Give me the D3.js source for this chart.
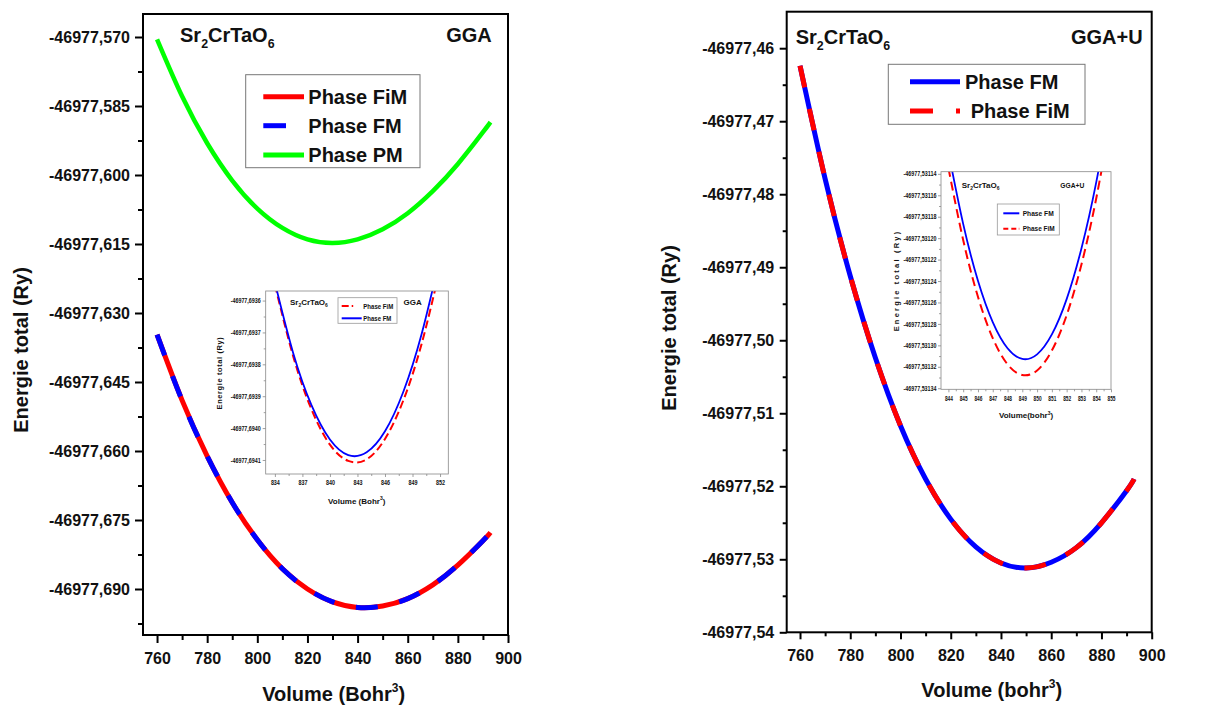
<!DOCTYPE html>
<html>
<head>
<meta charset="utf-8">
<script src="https://cdn.jsdelivr.net/npm/d3@7"></script>
<style>
body { margin: 0; background: #fff; }
text { font-family: "Liberation Sans", Arial, sans-serif; font-weight: bold; fill: #111; }
text.narrow { font-family: "Liberation Sans Narrow", "Liberation Sans", Arial, sans-serif; }
</style>
</head>
<body>
<svg class="chart"></svg>
<script>
// main curves, volume in bohr^3, energy in Ry
var volumes = [760, 770, 780, 790, 800, 810, 820, 830, 840, 850, 860, 870, 880, 890, 893];
var ggaFiM = [-46977.6347, -46977.6490, -46977.6611, -46977.6712, -46977.6793, -46977.6856, -46977.6900, -46977.6928,
              -46977.6940, -46977.6937, -46977.6921, -46977.6891, -46977.6848, -46977.6795, -46977.6777];
var ggaFM  = [-46977.6347, -46977.6490, -46977.6611, -46977.6712, -46977.6793, -46977.6856, -46977.6900, -46977.6928,
              -46977.6940, -46977.6937, -46977.6921, -46977.6891, -46977.6848, -46977.6795, -46977.6777];
var ggaPM  = [-46977.5705, -46977.5829, -46977.5931, -46977.6012, -46977.6073, -46977.6115, -46977.6140, -46977.6148,
              -46977.6140, -46977.6118, -46977.6083, -46977.6035, -46977.5976, -46977.5907, -46977.5885];
var uFM  = [-46977.4624, -46977.4779, -46977.4912, -46977.5024, -46977.5117, -46977.5190, -46977.5245, -46977.5283,
            -46977.5305, -46977.5312, -46977.5304, -46977.5284, -46977.5250, -46977.5206, -46977.5190];
var uFiM = [-46977.4624, -46977.4779, -46977.4912, -46977.5024, -46977.5117, -46977.5190, -46977.5245, -46977.5283,
            -46977.5305, -46977.5312, -46977.5304, -46977.5284, -46977.5250, -46977.5206, -46977.5190];

// zoomed insets
var insetGgaVol = [834, 836, 838, 840, 842, 844, 846, 848, 850, 852];
var insetGgaFM  = [-46977.693543, -46977.693765, -46977.693929, -46977.694036, -46977.694085,
                   -46977.694076, -46977.694010, -46977.693886, -46977.693704, -46977.693465];
var insetGgaFiM = [-46977.693550, -46977.693775, -46977.693942, -46977.694052, -46977.694103,
                   -46977.694098, -46977.694034, -46977.693913, -46977.693735, -46977.693499];
var insetUVol = [844, 845, 846, 847, 848, 849, 850, 851, 852, 853, 854, 855];
var insetUFM  = [-46977.5311194, -46977.5311867, -46977.5312397, -46977.5312783, -46977.5313027, -46977.5313127,
                 -46977.5313084, -46977.5312898, -46977.5312569, -46977.5312096, -46977.5311480, -46977.5310721];
var insetUFiM = [-46977.5311344, -46977.5312017, -46977.5312547, -46977.5312933, -46977.5313177, -46977.5313277,
                 -46977.5313234, -46977.5313048, -46977.5312719, -46977.5312246, -46977.5311630, -46977.5310871];

// tick labels
var xTicks = [760, 780, 800, 820, 840, 860, 880, 900];
var ggaYTicks = [-46977.570, -46977.585, -46977.600, -46977.615, -46977.630, -46977.645, -46977.660, -46977.675, -46977.690];
var uYTicks = [-46977.46, -46977.47, -46977.48, -46977.49, -46977.50, -46977.51, -46977.52, -46977.53, -46977.54];
var insetGgaXTicks = [834, 837, 840, 843, 846, 849, 852];
var insetGgaYTicks = [-46977.6936, -46977.6937, -46977.6938, -46977.6939, -46977.6940, -46977.6941];
var insetUXTicks = [844, 845, 846, 847, 848, 849, 850, 851, 852, 853, 854, 855];
var insetUYTicks = [-46977.53114, -46977.53116, -46977.53118, -46977.53120, -46977.53122, -46977.53124,
                    -46977.53126, -46977.53128, -46977.53130, -46977.53132, -46977.53134];

var red = "#ff0000", blue = "#0000ff", green = "#00ff00";

var svg = d3.select('.chart')
  .attr("width", 1211)
  .attr("height", 706);

var loc = d3.formatLocale({decimal: ",", thousands: " ", grouping: [3], currency: ["", ""], minus: "-"});

// minor ticks halfway between the labelled ones
function minorOf(ticks, scale) {
  var step = ticks[1] - ticks[0];
  var d = scale.domain(), lo = Math.min(d[0], d[1]), hi = Math.max(d[0], d[1]);
  var out = [];
  for (var i = -1; i < ticks.length; i++) out.push(ticks[0] + (i + 0.5) * step);
  return out.filter(function(v) { return v > lo && v < hi; });
}

function axes(g, x, y, o) {
  var w = x.range()[1], h = y.range()[0];
  var ax = g.append("g");
  var xa = ax.append("g").attr("transform", "translate(0," + h + ")")
    .call(d3.axisBottom(x).tickValues(o.xTicks).tickFormat(o.xFmt).tickSize(o.tick).tickPadding(o.xPad));
  ax.append("g").attr("transform", "translate(0," + h + ")")
    .call(d3.axisBottom(x).tickValues(minorOf(o.xTicks, x)).tickFormat("").tickSize(o.minor));
  var ya = ax.append("g")
    .call(d3.axisLeft(y).tickValues(o.yTicks).tickFormat(o.yFmt).tickSize(o.tick).tickPadding(o.yPad));
  ax.append("g")
    .call(d3.axisLeft(y).tickValues(minorOf(o.yTicks, y)).tickFormat("").tickSize(o.minor));
  ax.selectAll(".domain").remove();
  ax.selectAll(".tick line").attr("stroke", o.color).attr("stroke-width", o.sw);
  ax.selectAll(".tick text")
    .attr("fill", o.textColor)
    .attr("font-family", null)
    .style("font-size", o.fs + "px");
  // squeeze the small inset labels like a condensed face
  if (o.xLen) xa.selectAll(".tick text").attr("textLength", o.xLen).attr("lengthAdjust", "spacingAndGlyphs");
  if (o.yLen) ya.selectAll(".tick text").attr("textLength", o.yLen).attr("lengthAdjust", "spacingAndGlyphs");
  g.append("rect")
    .attr("width", w).attr("height", h)
    .attr("fill", "none").attr("stroke", o.color).attr("stroke-width", o.sw);
}

function curve(g, vols, vals, x, y, color, width, dash) {
  var line = d3.line()
    .x(function(d, i) { return x(vols[i]); })
    .y(function(d) { return y(d); })
    .curve(d3.curveNatural);
  g.append("path")
    .datum(vals)
    .attr("d", line)
    .attr("fill", "none")
    .attr("stroke", color)
    .attr("stroke-width", width)
    .attr("stroke-dasharray", dash || null);
}

// Sr2CrTaO6 with subscripts
function formula(g, x, y, fs) {
  var t = g.append("text").attr("x", x).attr("y", y).style("font-size", fs + "px");
  var s = fs * 0.28;
  t.append("tspan").text("Sr");
  t.append("tspan").attr("dy", s).style("font-size", (fs * 0.62) + "px").text("2");
  t.append("tspan").attr("dy", -s).text("CrTaO");
  t.append("tspan").attr("dy", s).style("font-size", (fs * 0.62) + "px").text("6");
}

function label(g, x, y, txt, fs, anchor, rotate, spacing, len) {
  var t = g.append("text")
    .attr("text-anchor", anchor || "start")
    .style("font-size", fs + "px")
    .text(txt);
  if (spacing) t.style("letter-spacing", spacing + "px");
  if (len) t.attr("textLength", len).attr("lengthAdjust", "spacingAndGlyphs");
  if (rotate) t.attr("transform", "translate(" + x + "," + y + ") rotate(-90)");
  else t.attr("x", x).attr("y", y);
  return t;
}

function legendLine(g, x1, x2, y, color, width, dash) {
  g.append("line")
    .attr("x1", x1).attr("x2", x2).attr("y1", y).attr("y2", y)
    .attr("stroke", color).attr("stroke-width", width)
    .attr("stroke-dasharray", dash || null);
}

// ---------------- left panel : GGA ----------------
var L = { left: 143, top: 14, width: 365, height: 621 };
var xL = d3.scaleLinear().domain([754.4, 900]).range([0, L.width]);
var yL = d3.scaleLinear().domain([-46977.700, -46977.565]).range([L.height, 0]);
var gL = svg.append("g").attr("transform", "translate(" + L.left + "," + L.top + ")");

curve(gL, volumes, ggaPM, xL, yL, green, 4.5);
curve(gL, volumes, ggaFiM, xL, yL, red, 5);
curve(gL, volumes, ggaFM, xL, yL, blue, 5, "22 22");

axes(gL, xL, yL, {
  xTicks: xTicks, yTicks: ggaYTicks, xFmt: d3.format("d"), yFmt: loc.format(".3f"),
  tick: 8, minor: 5, xPad: 10, yPad: 5, color: "#000", sw: 2, fs: 16, textColor: "#111"
});

formula(svg, 180, 42, 20);
label(svg, 491.7, 42, "GGA", 20, "end");
label(svg, 28, 350, "Energie total (Ry)", 20, "middle", true);
var xtL = label(svg, 333.7, 701, "Volume (Bohr", 20, "middle");
xtL.append("tspan").attr("dy", -9).style("font-size", "12px").text("3");
xtL.append("tspan").attr("dy", 9).text(")");

// legend
svg.append("rect").attr("x", 245.7).attr("y", 74.7).attr("width", 174.3).attr("height", 93)
  .attr("fill", "#fff").attr("stroke", "#777").attr("stroke-width", 1);
legendLine(svg, 263.3, 304, 96.7, red, 5);
legendLine(svg, 263.3, 286, 125.7, blue, 5);
legendLine(svg, 263.3, 304, 155, green, 5);
label(svg, 308.3, 103.7, "Phase FiM", 20);
label(svg, 308.3, 132.7, "Phase FM", 20);
label(svg, 308.3, 162, "Phase PM", 20);

// inset GGA
var IL = { left: 265.7, top: 291, width: 182.6, height: 183 };
var xIL = d3.scaleLinear().domain([833, 852.9]).range([0, IL.width]);
var yIL = d3.scaleLinear().domain([-46977.694144, -46977.69357]).range([IL.height, 0]);
var gIL = svg.append("g").attr("transform", "translate(" + IL.left + "," + IL.top + ")");
gIL.append("rect").attr("width", IL.width).attr("height", IL.height).attr("fill", "#fff");
svg.append("clipPath").attr("id", "clipIL").append("rect").attr("width", IL.width).attr("height", IL.height);
var cIL = gIL.append("g").attr("clip-path", "url(#clipIL)");
curve(cIL, insetGgaVol, insetGgaFiM, xIL, yIL, red, 2, "8 4");
curve(cIL, insetGgaVol, insetGgaFM, xIL, yIL, blue, 1.8);
axes(gIL, xIL, yIL, {
  xTicks: insetGgaXTicks, yTicks: insetGgaYTicks, xFmt: d3.format("d"), yFmt: loc.format(".4f"),
  tick: 3, minor: 2, xPad: 3, yPad: 2, color: "#888", sw: 0.8, fs: 7, textColor: "#444",
  xLen: 9, yLen: 30
});
formula(svg, 290, 304.5, 8);
label(svg, 421.7, 304.5, "GGA", 8, "end");
label(svg, 221.5, 373, "Energie total (Ry)", 7.5, "middle", true, 0.6);
var xtIL = label(svg, 356.7, 503.5, "Volume (Bohr", 8, "middle");
xtIL.append("tspan").attr("dy", -3.5).style("font-size", "5px").text("3");
xtIL.append("tspan").attr("dy", 3.5).text(")");
svg.append("rect").attr("x", 338).attr("y", 297.7).attr("width", 59).attr("height", 25.6)
  .attr("fill", "#fff").attr("stroke", "#999").attr("stroke-width", 0.8);
legendLine(svg, 341.7, 361.7, 306, red, 2, "7 3 1.5 20");
legendLine(svg, 341.7, 361.7, 318.3, blue, 2);
label(svg, 363.3, 308.5, "Phase FiM", 6.5, "start", false, 0, 30);
label(svg, 363.3, 320.8, "Phase FM", 6.5, "start", false, 0, 28);

// ---------------- right panel : GGA+U ----------------
var R = { left: 786.7, top: 11.7, width: 365, height: 620.6 };
var xR = d3.scaleLinear().domain([754.7, 900]).range([0, R.width]);
var yR = d3.scaleLinear().domain([-46977.54, -46977.455]).range([R.height, 0]);
var gR = svg.append("g").attr("transform", "translate(" + R.left + "," + R.top + ")");

curve(gR, volumes, uFM, xR, yR, blue, 5);
curve(gR, volumes, uFiM, xR, yR, red, 5, "22 22");

axes(gR, xR, yR, {
  xTicks: xTicks, yTicks: uYTicks, xFmt: d3.format("d"), yFmt: loc.format(".2f"),
  tick: 7, minor: 4, xPad: 10, yPad: 5.5, color: "#000", sw: 2, fs: 16, textColor: "#111"
});

formula(svg, 795.7, 44, 20);
label(svg, 1142.7, 44, "GGA+U", 20, "end");
label(svg, 676, 328, "Energie total (Ry)", 20, "middle", true);
var xtR = label(svg, 991.7, 697, "Volume (bohr", 20, "middle");
xtR.append("tspan").attr("dy", -9).style("font-size", "12px").text("3");
xtR.append("tspan").attr("dy", 9).text(")");

svg.append("rect").attr("x", 888.3).attr("y", 64.3).attr("width", 196.7).attr("height", 60)
  .attr("fill", "#fff").attr("stroke", "#777").attr("stroke-width", 1);
legendLine(svg, 910, 960, 81.7, blue, 5);
legendLine(svg, 910, 960, 111, red, 5, "23 23 4 20");
label(svg, 965, 88.7, "Phase FM", 20);
label(svg, 970.7, 118, "Phase FiM", 20);

// inset GGA+U
var IR = { left: 941, top: 171.7, width: 170, height: 217.6 };
var xIR = d3.scaleLinear().domain([843.5, 855]).range([0, IR.width]);
var yIR = d3.scaleLinear().domain([-46977.531341, -46977.531138]).range([IR.height, 0]);
var gIR = svg.append("g").attr("transform", "translate(" + IR.left + "," + IR.top + ")");
gIR.append("rect").attr("width", IR.width).attr("height", IR.height).attr("fill", "#fff");
svg.append("clipPath").attr("id", "clipIR").append("rect").attr("width", IR.width).attr("height", IR.height);
var cIR = gIR.append("g").attr("clip-path", "url(#clipIR)");
curve(cIR, insetUVol, insetUFiM, xIR, yIR, red, 2, "9 5");
curve(cIR, insetUVol, insetUFM, xIR, yIR, blue, 1.8);
axes(gIR, xIR, yIR, {
  xTicks: insetUXTicks, yTicks: insetUYTicks, xFmt: d3.format("d"), yFmt: loc.format(".5f"),
  tick: 3, minor: 2, xPad: 4, yPad: 1.5, color: "#888", sw: 0.8, fs: 6.5, textColor: "#444",
  xLen: 8, yLen: 33
});
formula(svg, 961.7, 187.5, 8);
label(svg, 1084.3, 187.5, "GGA+U", 8, "end", false, 0, 24);
label(svg, 898.8, 280.5, "Energie total (Ry)", 7.5, "middle", true, 2.2);
var xtIR = label(svg, 1026, 418, "Volume(bohr", 8, "middle");
xtIR.append("tspan").attr("dy", -3.5).style("font-size", "5px").text("3");
xtIR.append("tspan").attr("dy", 3.5).text(")");
svg.append("rect").attr("x", 997.3).attr("y", 204).attr("width", 62).attr("height", 31)
  .attr("fill", "#fff").attr("stroke", "#999").attr("stroke-width", 0.8);
legendLine(svg, 1003.3, 1019.3, 213.3, blue, 2);
legendLine(svg, 1003.3, 1019.3, 228.7, red, 2, "5 3 5 2.5 1.5 10");
label(svg, 1022.7, 216, "Phase FM", 7.5, "start", false, 0, 31);
label(svg, 1022.7, 231.4, "Phase FiM", 7.5, "start", false, 0, 32);
</script>
</body>
</html>
